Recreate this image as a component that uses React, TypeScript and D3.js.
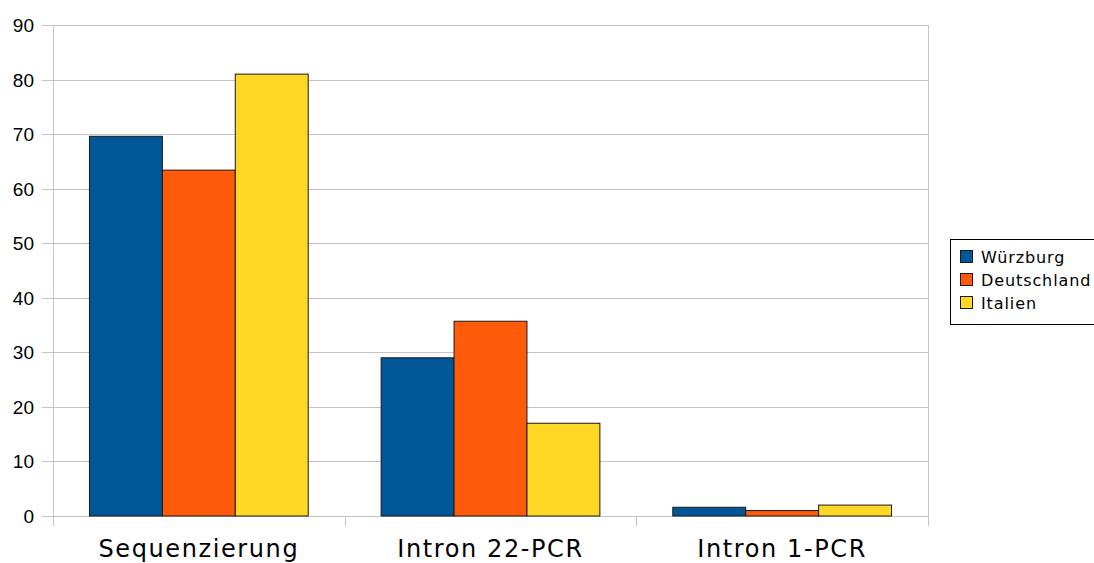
import React from "react";
import * as d3 from "d3";

const categories = ["Sequenzierung", "Intron 22-PCR", "Intron 1-PCR"];
const seriesNames = ["Würzburg", "Deutschland", "Italien"];
const wuerzburg = [69.6, 29.0, 1.6];
const deutschland = [63.4, 35.7, 1.0];
const italien = [81.0, 17.0, 2.0];
const seriesColors = ["#015697", "#ff590a", "#ffd826"];
const yTicks = [0, 10, 20, 30, 40, 50, 60, 70, 80, 90];

const W = 1094;
const H = 563;
const plot = { left: 53, right: 928, top: 25, bottom: 516 };

export default function App() {
  const series = [wuerzburg, deutschland, italien];
  const x = d3
    .scaleBand<string>()
    .domain(categories)
    .range([plot.left, plot.right])
    .paddingInner(0)
    .paddingOuter(0);
  const inner = d3
    .scaleBand<number>()
    .domain([0, 1, 2])
    .range([x.bandwidth() * 0.125, x.bandwidth() * 0.875]);
  const y = d3.scaleLinear().domain([0, 90]).range([plot.bottom, plot.top]);

  const grid = "#c4c4c4";
  const boundaries = [plot.left, ...categories.map((c) => (x(c) as number) + x.bandwidth())];

  return (
    <svg
      width={W}
      height={H}
      style={{ position: "absolute", left: 0, top: 0, background: "#fff" }}
    >
      {/* horizontal grid lines with small ticks on the left */}
      {yTicks.map((t) => (
        <g key={t}>
          <line
            x1={plot.left - 11}
            x2={plot.right}
            y1={Math.round(y(t)) + 0.5}
            y2={Math.round(y(t)) + 0.5}
            stroke={grid}
            strokeWidth={1}
          />
          <text
            x={34}
            y={y(t) + 7}
            textAnchor="end"
            fontFamily="Liberation Sans, Arial, sans-serif"
            fontSize={19}
            fill="#000"
          >
            {t}
          </text>
        </g>
      ))}
      {/* vertical axis and category separators */}
      {boundaries.map((bx, i) => (
        <line
          key={i}
          x1={Math.round(bx) + 0.5}
          x2={Math.round(bx) + 0.5}
          y1={i === 0 || i === boundaries.length - 1 ? plot.top : plot.bottom}
          y2={plot.bottom + 10}
          stroke={grid}
          strokeWidth={1}
        />
      ))}
      {/* bars */}
      {categories.map((c, ci) => (
        <g key={c}>
          {series.map((s, si) => {
            const bx = (x(c) as number) + (inner(si) as number);
            const top = y(s[ci]);
            return (
              <rect
                key={si}
                x={bx}
                y={top}
                width={inner.bandwidth()}
                height={plot.bottom - top}
                fill={seriesColors[si]}
                stroke="#1a1a1a"
                strokeWidth={1}
              />
            );
          })}
          <text
            x={(x(c) as number) + x.bandwidth() / 2}
            y={557}
            textAnchor="middle"
            fontFamily="DejaVu Sans, sans-serif"
            fontSize={24}
            letterSpacing={1.6}
            fill="#000"
          >
            {c}
          </text>
        </g>
      ))}
      {/* legend */}
      <rect x={950.5} y={239.5} width={150} height={85} fill="#fff" stroke="#000" strokeWidth={1} />
      {seriesNames.map((n, i) => (
        <g key={n}>
          <rect
            x={960.5}
            y={250.5 + i * 23}
            width={12}
            height={12}
            fill={seriesColors[i]}
            stroke="#1a1a1a"
            strokeWidth={1}
          />
          <text
            x={981}
            y={263 + i * 23}
            fontFamily="DejaVu Sans, sans-serif"
            fontSize={16}
            letterSpacing={0.9}
            fill="#000"
          >
            {n}
          </text>
        </g>
      ))}
    </svg>
  );
}
